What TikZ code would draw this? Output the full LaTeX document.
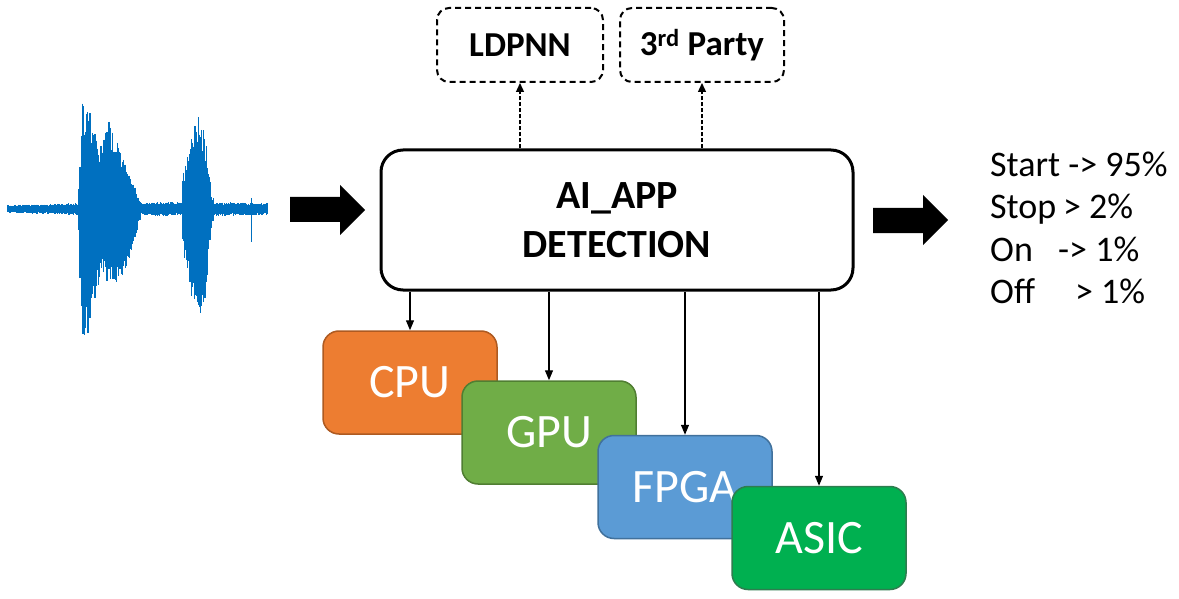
\documentclass[tikz,border=0pt]{standalone}
\usepackage{fontspec}
\setmainfont{Carlito}
\usetikzlibrary{arrows.meta}
\definecolor{wblue}{HTML}{0070C0}
\definecolor{cpuf}{HTML}{ED7D31}\definecolor{cpud}{HTML}{AE5A21}
\definecolor{gpuf}{HTML}{70AD47}\definecolor{gpud}{HTML}{507E32}
\definecolor{fpgaf}{HTML}{5B9BD5}\definecolor{fpgad}{HTML}{41719C}
\definecolor{asicf}{HTML}{00B050}\definecolor{asicd}{HTML}{2E7D4F}
\begin{document}
\begin{tikzpicture}[x=1pt,y=-1pt,
  mainbox/.style={draw, line width=3pt, rounded corners=22pt, minimum width=472pt, minimum height=140pt, align=center, inner sep=0pt, font=\fontsize{40}{49}\selectfont\bfseries},
  dashbox/.style={draw, line width=2pt, dash pattern=on 6pt off 4pt, rounded corners=12pt, minimum height=74pt, inner sep=0pt, font=\fontsize{35}{38}\selectfont\bfseries},
  hwbox/.style={draw, line width=1.5pt, rounded corners=16pt, minimum width=174pt, minimum height=103pt, inner sep=0pt, text=white, font=\fontsize{48}{52}\selectfont},
  downarrow/.style={-{Triangle[length=10pt,width=8pt]}, line width=1.3pt},
  dasharrow/.style={-{Triangle[length=9pt,width=8pt]}, line width=1.3pt, dash pattern=on 4pt off 2pt},
  wave/.style={wblue, line width=1.2pt},
  blockarrow/.style={fill=black}
]
\useasboundingbox (0,0) rectangle (1179,599);

% waveform
\pgfmathsetseed{7}
\foreach \xa/\ua/\da/\xb/\ub/\db in {
  8/4/4/78/6/6, 78/6/6/80/50/70, 80/50/70/83/110/128, 83/110/128/90/100/125,
  90/100/125/96/70/85, 96/70/85/102/70/65, 102/70/65/109/88/78,
  109/88/78/120/62/72, 120/62/72/128/42/55, 128/42/55/135/22/30,
  135/22/30/140/9/11, 140/7/7/183/7/7, 183/36/42/190/70/90, 190/70/90/196/98/117,
  196/98/117/205/77/94, 205/77/94/211/16/25, 211/16/25/215/7/7, 215/7/7/268/6/6} {
  \pgfmathsetmacro\xs{\xa+0.7}
  \foreach \x in {\xa,\xs,...,\xb} {
    \pgfmathsetmacro\tt{(\x-\xa)/(\xb-\xa)}
    \pgfmathsetmacro\amu{(\ua+(\ub-\ua)*\tt)*(0.62+0.38*rnd)}
    \pgfmathsetmacro\amd{(\da+(\db-\da)*\tt)*(0.62+0.38*rnd)}
    \draw[wave] (\x,{209-\amu}) -- (\x,{209+\amd});
  }
}
\draw[wblue, line width=1.3pt] (251.5,198) -- (251.5,242);

% block arrows
\fill[blockarrow] (290,197) -- (340,197) -- (340,185) -- (365,210) -- (340,235) -- (340,222) -- (290,222) -- cycle;
\fill[blockarrow] (873,208) -- (923,208) -- (923,195) -- (948,220) -- (923,245) -- (923,233) -- (873,233) -- cycle;

% main box
\node[mainbox] (main) at (617,220) {AI\_APP\\DETECTION};

% top dashed boxes
\node[dashbox, minimum width=166pt] (ldpnn) at (520,45) {LDPNN};
\node[dashbox, minimum width=164pt] (third) at (702,45) {3\textsuperscript{rd} Party};
\draw[dasharrow] (ldpnn.south |- main.north) -- (ldpnn.south);
\draw[dasharrow] (third.south |- main.north) -- (third.south);

% hardware boxes
\node[hwbox, fill=cpuf, draw=cpud] (cpu) at (410,382.5) {CPU};
\node[hwbox, fill=gpuf, draw=gpud] (gpu) at (549,432.5) {GPU};
\node[hwbox, fill=fpgaf, draw=fpgad] (fpga) at (685,487) {FPGA};
\node[hwbox, fill=asicf, draw=asicd] (asic) at (819,538) {ASIC};

\draw[downarrow] (cpu.north |- main.south) -- (cpu.north);
\draw[downarrow] (gpu.north |- main.south) -- (gpu.north);
\draw[downarrow] (fpga.north |- main.south) -- (fpga.north);
\draw[downarrow] (asic.north |- main.south) -- (asic.north);

% results
\node[anchor=west, align=left, inner sep=0pt, font=\fontsize{36}{42.5}\selectfont] (res) at (990,228)
  {Start -> 95\%\\\makebox[73pt][l]{Stop}> 2\%\\\makebox[68pt][l]{On}-> 1\%\\\makebox[85pt][l]{Off}> 1\%};
\end{tikzpicture}
\end{document}
